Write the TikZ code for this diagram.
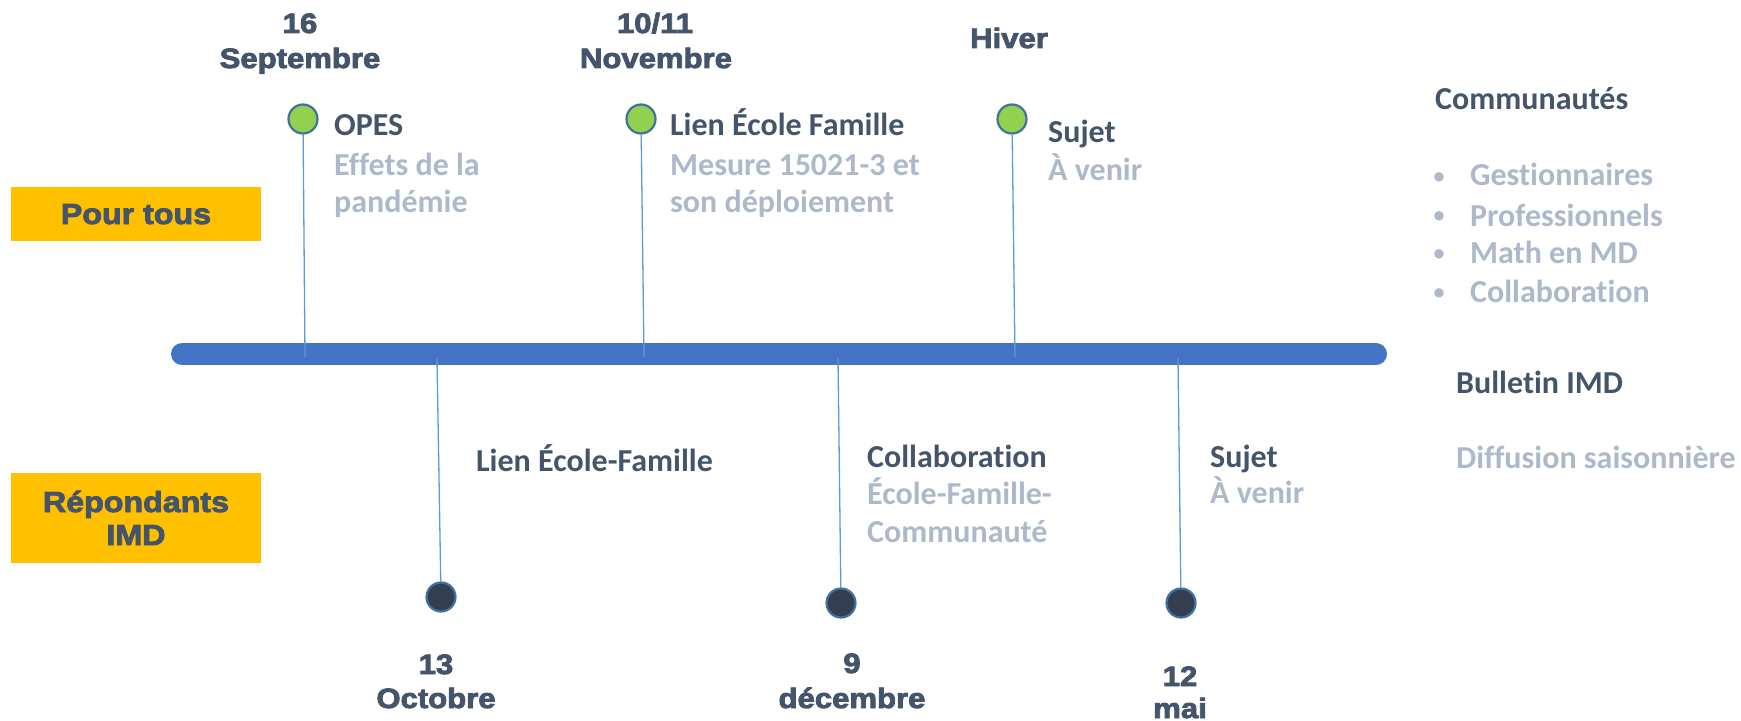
\documentclass[tikz,border=0pt]{standalone}
\usepackage{fontspec}
\setmainfont{Carlito}[Ligatures={NoCommon}]
\newfontfamily\datefont[UprightFont={* Bold},FakeStretch=1.11,FakeBold=3]{Liberation Sans}
\definecolor{cdark}{HTML}{44546A}
\definecolor{clight}{HTML}{ADB9CA}
\definecolor{cbar}{HTML}{4472C4}
\definecolor{cstem}{HTML}{5B9BD5}
\definecolor{cgreen}{HTML}{92D050}
\definecolor{crim}{HTML}{41719C}
\definecolor{cdot}{HTML}{333F50}
\definecolor{cyellow}{HTML}{FFC000}
\tikzset{
  date/.style={font=\datefont\fontsize{28bp}{34bp}\selectfont, text=cdark, anchor=base, inner sep=0pt},
  bandtext/.style={font=\datefont\fontsize{29bp}{34bp}\selectfont, text=cdark, anchor=base, inner sep=0pt},
  head/.style={font=\fontsize{32bp}{38bp}\selectfont\bfseries, text=cdark, anchor=base west, inner sep=0pt},
  sub/.style={head, text=clight},
  bullet/.style={sub, anchor=base, font=\fontsize{22bp}{26bp}\selectfont\bfseries},
  gdot/.style={circle, fill=cgreen, draw=crim, line width=2.2bp, minimum size=29bp, inner sep=0pt},
  ddot/.style={gdot, fill=cdot},
  stem/.style={draw=cstem, line width=1.3bp},
  bar/.style={draw=cbar, line width=22bp, line cap=round},
  band/.style={fill=cyellow, inner sep=0pt, minimum width=250bp}
}
\begin{document}
\begin{tikzpicture}[x=1bp,y=-1bp]
\useasboundingbox (0,0) rectangle (1741,721);
% yellow bands
\node[band, minimum height=54bp] (tous) at (136,214) {};
\node[bandtext] (toustxt) at (136,224) {Pour tous};
\node[band, minimum height=90bp] (imd) at (136,518) {};
\node[bandtext] (imdtxta) at (136,512) {Répondants};
\node[bandtext] (imdtxtb) at (136,545) {IMD};
% timeline bar
\coordinate (barL) at (182,354);
\coordinate (barR) at (1376,354);
\draw[bar] (barL) -- (barR);
% upper events
\node[gdot] (g1) at (303,119) {};
\node[gdot] (g2) at (641,119) {};
\node[gdot] (g3) at (1012,119) {};
\coordinate (g1b) at (305,357);
\coordinate (g2b) at (644,357);
\coordinate (g3b) at (1015,357);
\draw[stem] (g1) -- (g1b);
\draw[stem] (g2) -- (g2b);
\draw[stem] (g3) -- (g3b);
% lower events
\node[ddot] (k1) at (441,597) {};
\node[ddot] (k2) at (841,603) {};
\node[ddot] (k3) at (1181,603) {};
\coordinate (k1t) at (437,358);
\coordinate (k2t) at (838,358);
\coordinate (k3t) at (1178,358);
\draw[stem] (k1t) -- (k1);
\draw[stem] (k2t) -- (k2);
\draw[stem] (k3t) -- (k3);
% upper dates
\node[date] (d1a) at (300,33) {16};
\node[date] (d1b) at (300,68) {Septembre};
\node[date] (d2a) at (655,33) {10/11};
\node[date] (d2b) at (656,68) {Novembre};
\node[date] (d3) at (1009,48) {Hiver};
% lower dates
\node[date] (d4a) at (436,674) {13};
\node[date] (d4b) at (436,708) {Octobre};
\node[date] (d5a) at (852,673) {9};
\node[date] (d5b) at (852,708) {décembre};
\node[date] (d6a) at (1180,686) {12};
\node[date] (d6b) at (1180,718) {mai};
% upper texts
\node[head] (u1a) at (334,136) {OPES};
\node[sub]  (u1b) at (334,175) {Effets de la};
\node[sub]  (u1c) at (334,212) {pandémie};
\node[head] (u2a) at (670,136) {Lien École Famille};
\node[sub]  (u2b) at (670,175) {Mesure 15021-3 et};
\node[sub]  (u2c) at (670,212) {son déploiement};
\node[head] (u3a) at (1048,143) {Sujet};
\node[sub]  (u3b) at (1048,180) {À venir};
% lower texts
\node[head] (l1a) at (476,471) {Lien École-Famille};
\node[head] (l2a) at (867,467) {Collaboration};
\node[sub]  (l2b) at (867,504) {École-Famille-};
\node[sub]  (l2c) at (867,542) {Communauté};
\node[head] (l3a) at (1210,467) {Sujet};
\node[sub]  (l3b) at (1210,503) {À venir};
% right column
\node[head] (com) at (1435,110) {Communautés};
\node[bullet] (b1) at (1439,183) {•};
\node[bullet] (b2) at (1439,222) {•};
\node[bullet] (b3) at (1439,260) {•};
\node[bullet] (b4) at (1439,299) {•};
\node[sub] (c1) at (1470,185) {Gestionnaires};
\node[sub] (c2) at (1470,226) {Professionnels};
\node[sub] (c3) at (1470,263) {Math en MD};
\node[sub] (c4) at (1470,302) {Collaboration};
\node[head] (bul) at (1456,393) {Bulletin IMD};
\node[sub] (dif) at (1456,468) {Diffusion saisonnière};
\end{tikzpicture}
\end{document}
